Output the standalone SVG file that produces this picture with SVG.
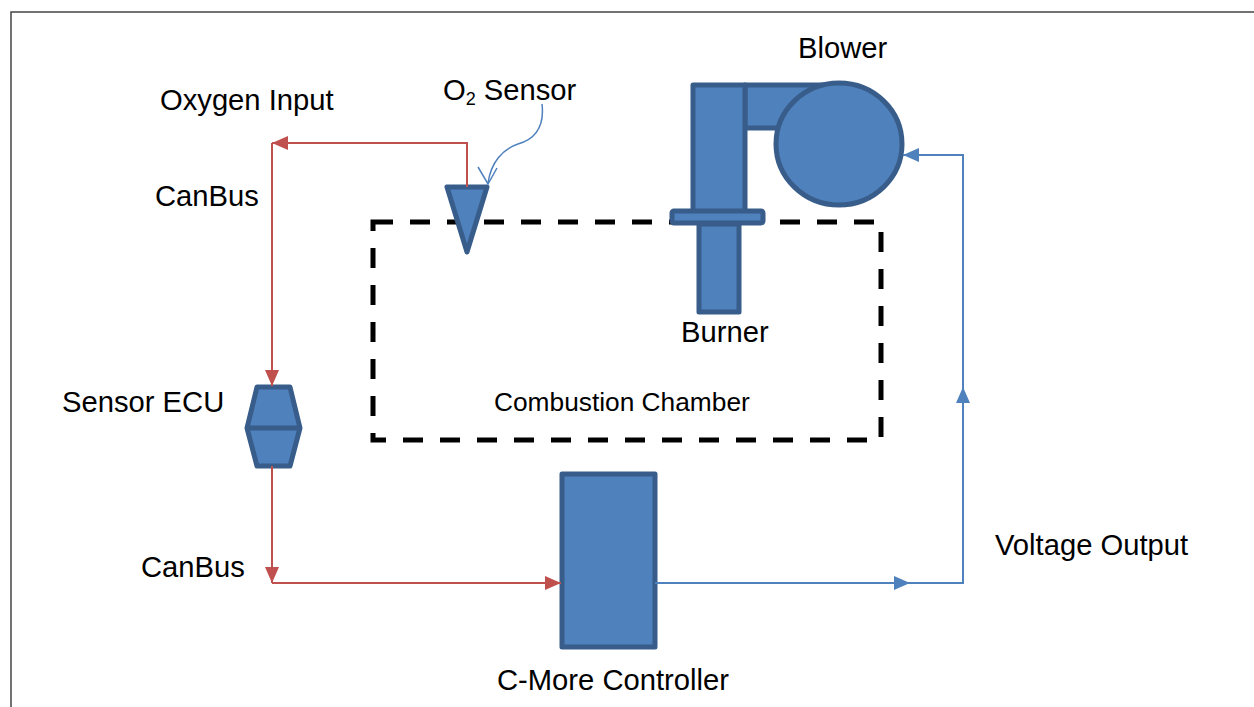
<svg xmlns="http://www.w3.org/2000/svg" width="1254" height="707" viewBox="0 0 1254 707">
<style>
.shape{fill:#4F81BD;stroke:#385D8A;stroke-width:5;stroke-linejoin:round}
.lbl{font-family:"Liberation Sans",Arial,sans-serif;font-size:29.2px;fill:#000}
.red{fill:none;stroke:#C0504D;stroke-width:2}
.blue{fill:none;stroke:#4F81BD;stroke-width:2}
</style>
<defs>
<marker id="ar" markerUnits="userSpaceOnUse" markerWidth="16" markerHeight="14" refX="16" refY="7" orient="auto"><path d="M0,0 L16,7 L0,14 z" fill="#C0504D"/></marker>
<marker id="ab" markerUnits="userSpaceOnUse" markerWidth="16" markerHeight="14" refX="16" refY="7" orient="auto"><path d="M0,0 L16,7 L0,14 z" fill="#4F81BD"/></marker>
</defs>
<rect x="0" y="0" width="1254" height="707" fill="#fff"/>
<path d="M11,720 V12 H1260" fill="none" stroke="#444" stroke-width="1.5"/>
<g id="combustion-chamber">
<rect x="373" y="222" width="508" height="218" fill="none" stroke="#000" stroke-width="5" stroke-dasharray="20,17"/>
<text class="lbl" x="494" y="411" style="font-size:26.3px">Combustion Chamber</text>
</g>
<g id="blower">
<rect class="shape" x="745" y="85" width="93" height="43"/>
<rect class="shape" x="693" y="85" width="52" height="127"/>
<ellipse class="shape" cx="839" cy="144" rx="63" ry="61"/>
<text class="lbl" x="798" y="58">Blower</text>
</g>
<g id="burner">
<rect class="shape" x="699" y="224" width="40" height="88"/>
<rect class="shape" x="672" y="211" width="91" height="12" rx="2"/>
<text class="lbl" x="681" y="342">Burner</text>
</g>
<g id="o2-sensor">
<polygon class="shape" points="447,187 487,187 467,252"/>
<path d="M542,104 C545,130 532,140 518,144 C503,149 491,162 488,183" fill="none" stroke="#4F81BD" stroke-width="1.5"/>
<path d="M478,167 L488,184 L497,168" fill="none" stroke="#4F81BD" stroke-width="1.5"/>
<text class="lbl" x="443" y="100">O<tspan style="font-size:18px" dy="5">2</tspan><tspan dy="-5"> Sensor</tspan></text>
</g>
<g id="sensor-ecu">
<polygon class="shape" points="257,387 290,387 300,428 290,466 257,466 247,428"/>
<line x1="247" y1="428" x2="300" y2="428" stroke="#385D8A" stroke-width="5"/>
<text class="lbl" x="62" y="412">Sensor ECU</text>
</g>
<g id="controller">
<rect class="shape" x="562" y="474" width="93" height="173"/>
<text class="lbl" x="497" y="690">C-More Controller</text>
</g>
<g id="connectors">
<path class="red" d="M467,187 V143 H272" marker-end="url(#ar)"/>
<path class="red" d="M272,143 V386" marker-end="url(#ar)"/>
<path class="red" d="M272,466 V583" marker-end="url(#ar)"/>
<path class="red" d="M272,583 H561" marker-end="url(#ar)"/>
<path class="blue" d="M655,583 H910" marker-end="url(#ab)"/>
<path class="blue" d="M910,583 H963 V387" marker-end="url(#ab)"/>
<path class="blue" d="M963,387 V155 H903" marker-end="url(#ab)"/>
</g>
<g id="labels">
<text class="lbl" x="160" y="110">Oxygen Input</text>
<text class="lbl" x="155" y="206">CanBus</text>
<text class="lbl" x="141" y="577">CanBus</text>
<text class="lbl" x="995" y="555">Voltage Output</text>
</g>
</svg>
